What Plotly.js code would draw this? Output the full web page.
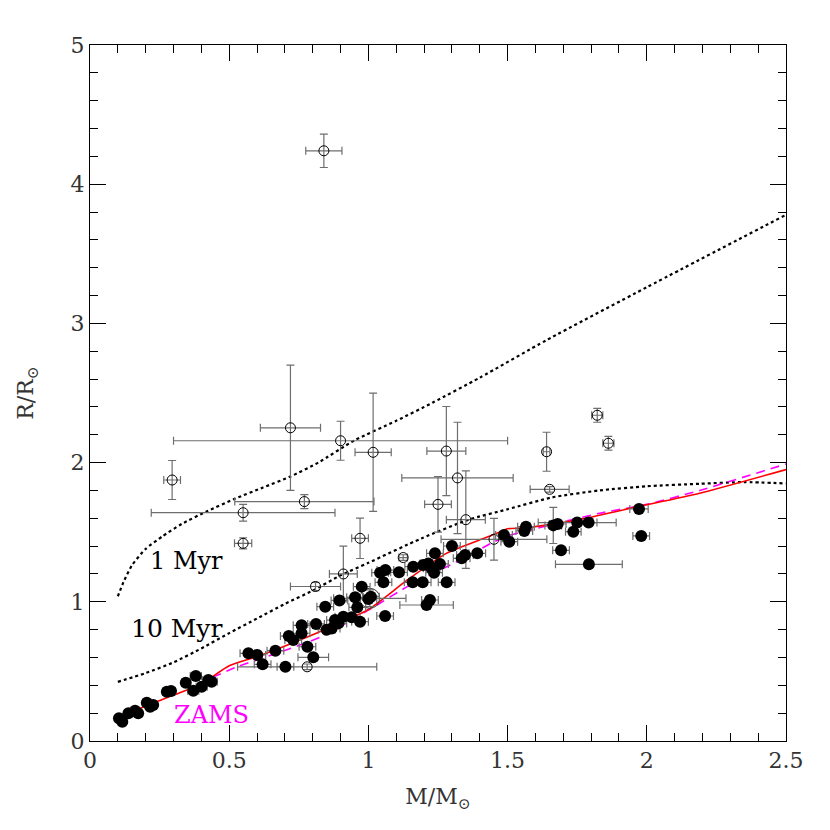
<!DOCTYPE html>
<html>
<head>
<meta charset="utf-8">
<script src="https://cdn.plot.ly/plotly-3.0.1.min.js"></script>
<style>html,body{margin:0;padding:0;background:#fff;}#chart{width:830px;height:830px;}</style>
</head>
<body>
<div id="chart"></div>
<script>
// Open circles (with error bars)
const openMass   = [0.84, 0.295, 0.72, 0.90, 1.017, 1.28, 1.32, 1.25, 1.35, 0.77, 0.55, 0.55, 0.97, 0.91, 0.81, 0.78, 1.125, 1.451, 1.64, 1.651, 1.822, 1.862];
const openRadius = [4.24, 1.875, 2.25, 2.157, 2.074, 2.083, 1.89, 1.70, 1.59, 1.72, 1.64, 1.42, 1.456, 1.20, 1.11, 0.533, 1.318, 1.449, 2.078, 1.808, 2.34, 2.139];
const openMassErr   = [0.065, 0.03, 0.108, 0.6, 0.065, 0.07, 0.2, 0.048, 0.07, 0.25, 0.33, 0.031, 0.03, 0.05, 0.09, 0.25, 0.015, 0.19, 0.012, 0.07, 0.02, 0.02];
const openRadiusErr = [0.12, 0.14, 0.45, 0.14, 0.425, 0.32, 0.4, 0.2, 0.35, 0.05, 0.06, 0.04, 0.145, 0.2, 0.03, 0.02, 0.02, 0.15, 0.14, 0.02, 0.05, 0.05];

// Large open circle
const bigMass = [1.005];
const bigRadius = [1.025];
const bigMassErr = [0.13];
const bigRadiusErr = [0.06];

// Filled circles (eclipsing binaries)
const fillMass = [0.104,0.116,0.138,0.162,0.173,0.204,0.216,0.227,0.276,0.291,0.344,0.380,0.371,0.401,0.425,0.437,
  0.569,0.601,0.620,0.666,0.702,0.714,0.730,0.760,0.760,0.781,0.802,0.812,0.845,0.850,0.868,0.880,0.892,0.910,0.896,
  0.940,0.952,0.960,0.970,0.976,1.000,1.009,1.060,1.042,1.061,1.054,1.110,1.161,1.159,1.195,1.197,1.215,1.227,1.239,
  1.236,1.257,1.281,1.300,1.209,1.221,1.335,1.347,1.391,1.487,1.506,1.560,1.566,1.664,1.680,1.736,1.750,1.791,1.692,
  1.792,1.972,1.980];
const fillRadius = [0.163,0.139,0.199,0.217,0.199,0.275,0.246,0.259,0.354,0.359,0.419,0.467,0.361,0.390,0.438,0.426,
  0.630,0.618,0.551,0.649,0.534,0.754,0.726,0.831,0.774,0.677,0.601,0.841,0.965,0.800,0.809,0.869,0.845,0.893,1.010,
  0.889,1.032,0.960,0.857,1.109,1.020,1.037,0.898,1.209,1.228,1.140,1.212,1.252,1.140,1.140,1.264,1.276,1.241,1.348,
  1.209,1.272,1.140,1.401,0.977,1.013,1.312,1.336,1.348,1.480,1.432,1.509,1.540,1.549,1.559,1.504,1.569,1.569,1.370,
  1.269,1.667,1.473];
const fillMassErr = [0.01,0.01,0.01,0.01,0.01,0.01,0.01,0.01,0.015,0.015,0.015,0.02,0.02,0.02,0.02,0.02,
  0.03,0.03,0.03,0.03,0.03,0.03,0.03,0.03,0.03,0.03,0.055,0.03,0.03,0.03,0.03,0.03,0.03,0.03,0.03,
  0.03,0.03,0.03,0.03,0.03,0.03,0.03,0.03,0.03,0.03,0.03,0.03,0.03,0.03,0.03,0.03,0.03,0.03,0.03,
  0.03,0.03,0.03,0.03,0.096,0.03,0.03,0.03,0.03,0.03,0.03,0.03,0.03,0.03,0.03,0.028,0.14,0.03,0.03,
  0.12,0.033,0.03];
const fillRadiusErr = [0.01,0.01,0.01,0.01,0.01,0.01,0.01,0.01,0.015,0.015,0.015,0.02,0.02,0.02,0.02,0.02,
  0.02,0.02,0.02,0.02,0.02,0.02,0.02,0.02,0.02,0.02,0.02,0.02,0.02,0.02,0.02,0.02,0.02,0.02,0.02,
  0.02,0.02,0.02,0.02,0.02,0.02,0.02,0.02,0.02,0.02,0.02,0.02,0.02,0.02,0.02,0.02,0.02,0.02,0.02,
  0.02,0.02,0.02,0.02,0.02,0.02,0.02,0.02,0.02,0.02,0.02,0.02,0.02,0.13,0.02,0.02,0.02,0.02,0.02,
  0.02,0.02,0.02];

// Isochrones and ZAMS
const iso1Mass   = [0.10,0.12,0.15,0.20,0.26,0.33,0.42,0.52,0.62,0.72,0.82,0.95,1.10,1.23,1.40,1.64,2.0,2.5];
const iso1Radius = [1.04,1.14,1.26,1.38,1.47,1.56,1.65,1.74,1.82,1.90,2.00,2.16,2.30,2.43,2.61,2.88,3.26,3.78];
const iso10Mass   = [0.10,0.20,0.30,0.40,0.50,0.60,0.70,0.80,0.90,1.0,1.19,1.36,1.50,1.66,1.83,2.0,2.19,2.35,2.5];
const iso10Radius = [0.425,0.488,0.565,0.665,0.775,0.88,0.985,1.08,1.19,1.28,1.455,1.59,1.665,1.75,1.80,1.83,1.848,1.86,1.85];
const zamsMass   = [0.10,0.18,0.30,0.40,0.50,0.60,0.68,0.84,1.0,1.14,1.28,1.42,1.47,1.50,1.56,1.66,1.78,1.96,2.19,2.5];
const zamsRadius = [0.15,0.235,0.33,0.41,0.54,0.606,0.666,0.797,0.945,1.157,1.348,1.46,1.50,1.525,1.53,1.558,1.60,1.68,1.78,1.95];
const zams2Mass   = [0.44,0.53,0.67,0.83,1.0,1.16,1.33,1.45,1.51,1.57,1.66,1.83,2.0,2.19,2.5];
const zams2Radius = [0.457,0.534,0.63,0.748,0.94,1.133,1.30,1.43,1.48,1.51,1.555,1.636,1.70,1.80,1.99];

const xTicks = [0, 0.5, 1, 1.5, 2, 2.5];
const xTickText = ['0', '0.5', '1', '1.5', '2', '2.5'];
const yTicks = [0, 1, 2, 3, 4, 5];
const yTickText = ['0', '1', '2', '3', '4', '5'];

const errColor = 'rgb(110,110,110)';
const serif = 'DejaVu Serif, serif';

const traces = [
  {x: iso1Mass, y: iso1Radius, mode: 'lines', line: {color: 'black', width: 2.2, dash: 'dot', shape: 'spline', smoothing: 0.6}, hoverinfo: 'skip'},
  {x: iso10Mass, y: iso10Radius, mode: 'lines', line: {color: 'black', width: 2.2, dash: 'dot', shape: 'spline', smoothing: 0.6}, hoverinfo: 'skip'},
  {x: zams2Mass, y: zams2Radius, mode: 'lines', line: {color: 'magenta', width: 1.6, dash: '9px,6px', shape: 'spline', smoothing: 0.6}, hoverinfo: 'skip'},
  {x: zamsMass, y: zamsRadius, mode: 'lines', line: {color: 'red', width: 1.6, shape: 'spline', smoothing: 0.6}, hoverinfo: 'skip'},
  {x: openMass, y: openRadius, mode: 'markers',
   marker: {symbol: 'circle-open', size: 10, color: 'black', line: {width: 1}},
   error_x: {type: 'data', array: openMassErr, color: errColor, thickness: 1.2, width: 4},
   error_y: {type: 'data', array: openRadiusErr, color: errColor, thickness: 1.2, width: 4}},
  {x: bigMass, y: bigRadius, mode: 'markers',
   marker: {symbol: 'circle-open', size: 20, color: 'rgb(60,60,60)', line: {width: 1}},
   error_x: {type: 'data', array: bigMassErr, color: errColor, thickness: 1.2, width: 4},
   error_y: {type: 'data', array: bigRadiusErr, color: errColor, thickness: 1.2, width: 4}},
  {x: fillMass, y: fillRadius, mode: 'markers',
   marker: {symbol: 'circle', size: 12, color: 'black'},
   error_x: {type: 'data', array: fillMassErr, color: errColor, thickness: 1.2, width: 4},
   error_y: {type: 'data', array: fillRadiusErr, color: errColor, thickness: 1.2, width: 4}}
];

const axisCommon = {
  showgrid: false, zeroline: false, showline: true, linecolor: 'black', linewidth: 1,
  mirror: 'allticks', ticks: 'inside', ticklen: 16, tickcolor: 'black', tickwidth: 1,
  tickfont: {family: serif, size: 22, color: '#333'}
};

const layout = {
  width: 830, height: 830,
  margin: {l: 90, r: 44, t: 45, b: 89},
  paper_bgcolor: 'white', plot_bgcolor: 'white',
  showlegend: false,
  xaxis: Object.assign({}, axisCommon, {
    range: [0, 2.5], tickmode: 'array', tickvals: xTicks, ticktext: xTickText,
    minor: {dtick: 0.1, tick0: 0, ticks: 'inside', ticklen: 8, tickcolor: 'black'},
    title: {text: 'M/M<sub>⊙</sub>', font: {family: serif, size: 22, color: '#333'}, standoff: 16}
  }),
  yaxis: Object.assign({}, axisCommon, {
    range: [0, 5], tickmode: 'array', tickvals: yTicks, ticktext: yTickText,
    minor: {dtick: 0.2, tick0: 0, ticks: 'inside', ticklen: 8, tickcolor: 'black'},
    title: {text: 'R/R<sub>⊙</sub>', font: {family: serif, size: 22, color: '#333'}, standoff: 30}
  }),
  annotations: [
    {x: 0.345, y: 1.29, xref: 'x', yref: 'y', text: '1 Myr', showarrow: false, font: {family: serif, size: 24, color: 'black'}},
    {x: 0.31, y: 0.81, xref: 'x', yref: 'y', text: '10 Myr', showarrow: false, font: {family: serif, size: 25, color: 'black'}},
    {x: 0.435, y: 0.185, xref: 'x', yref: 'y', text: 'ZAMS', showarrow: false, font: {family: serif, size: 24, color: 'magenta'}}
  ]
};

Plotly.newPlot('chart', traces, layout, {displayModeBar: false, staticPlot: true});
</script>
</body>
</html>
